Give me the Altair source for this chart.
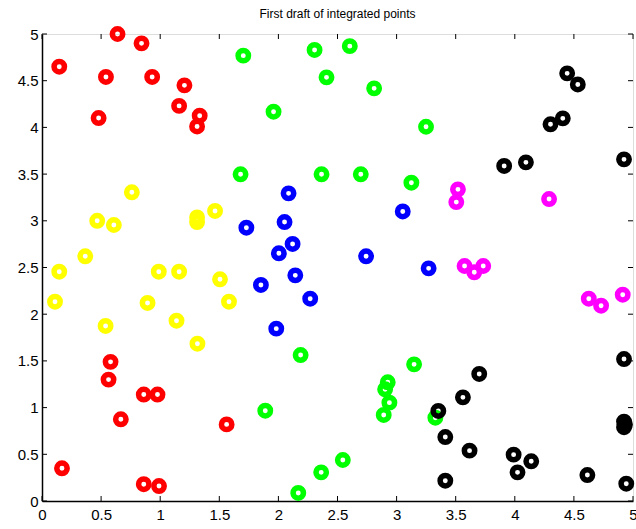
import altair as alt
import pandas as pd

red_x = [0.146, 0.639, 0.842, 0.541, 0.932, 0.479, 1.205, 1.160, 1.334, 1.312,
         0.580, 0.563, 0.667, 0.861, 0.977, 1.562, 0.169, 0.861, 0.990]
red_y = [4.65, 5.00, 4.90, 4.54, 4.54, 4.10, 4.45, 4.23, 4.125, 4.01,
         1.49, 1.30, 0.875, 1.14, 1.14, 0.82, 0.35, 0.18, 0.16]

yellow_x = [0.760, 0.467, 0.608, 0.366, 0.146, 0.110, 0.538, 0.988, 1.160, 0.893,
            1.138, 1.312, 1.312, 1.464, 1.506, 1.582, 1.315]
yellow_y = [3.305, 3.00, 2.955, 2.62, 2.455, 2.134, 1.874, 2.455, 2.455, 2.12,
            1.93, 3.037, 2.987, 3.105, 2.374, 2.134, 1.684]

green_x = [1.703, 2.306, 2.604, 2.407, 2.810, 1.959, 3.249, 1.680, 2.365, 2.697,
           3.125, 2.188, 1.889, 3.148, 2.925, 2.903, 2.939, 2.891, 2.545, 2.362,
           2.168, 3.328]
green_y = [4.768, 4.829, 4.87, 4.536, 4.418, 4.168, 4.007, 3.498, 3.498, 3.498,
           3.408, 1.563, 0.967, 1.463, 1.271, 1.196, 1.053, 0.921, 0.439, 0.307,
           0.086, 0.892]

blue_x = [2.086, 3.052, 1.729, 2.052, 2.120, 2.004, 2.742, 3.271, 2.143, 1.852,
          2.269, 1.982]
blue_y = [3.294, 3.10, 2.926, 2.987, 2.752, 2.652, 2.62, 2.491, 2.416, 2.313,
          2.166, 1.845]

magenta_x = [3.519, 3.505, 4.290, 3.575, 3.657, 3.733, 4.626, 4.730, 4.913]
magenta_y = [3.337, 3.20, 3.233, 2.516, 2.449, 2.516, 2.166, 2.091, 2.209]

black_x = [4.443, 4.533, 4.302, 4.406, 3.910, 4.094, 4.924, 4.924, 3.699, 3.561,
           3.353, 3.412, 3.617, 3.990, 4.139, 4.023, 3.412, 4.614, 4.943, 4.924,
           4.932, 4.924]
black_y = [4.579, 4.46, 4.033, 4.097, 3.587, 3.626, 3.658, 1.52, 1.36, 1.11,
           0.964, 0.685, 0.539, 0.496, 0.425, 0.307, 0.217, 0.278, 0.185, 0.85,
           0.82, 0.79]

groups = ["red", "yellow", "green", "blue", "magenta", "black"]
colors = ["#FF0000", "#FFFF00", "#00FF00", "#0000FF", "#FF00FF", "#000000"]
series = [(red_x, red_y), (yellow_x, yellow_y), (green_x, green_y),
          (blue_x, blue_y), (magenta_x, magenta_y), (black_x, black_y)]

rows = []
for g, (xs, ys) in zip(groups, series):
    for xv, yv in zip(xs, ys):
        rows.append({"x": xv, "y": yv, "group": g})
df = pd.DataFrame(rows)

tick_values = [0, 0.5, 1, 1.5, 2, 2.5, 3, 3.5, 4, 4.5, 5]
ticks = pd.DataFrame({"t": tick_values})

W, H = 591, 467
TL = 5

xscale = alt.Scale(domain=[0, 5], nice=False, zero=False)
yscale = alt.Scale(domain=[0, 5], nice=False, zero=False)

xaxis = alt.Axis(values=tick_values, title=None, grid=False, tickSize=0,
                 labelFontSize=15, labelFont="Liberation Sans", labelColor="black",
                 labelPadding=6, labelFlush=False, labelOverlap=False, format="~g",
                 domainColor="black", domainWidth=1.5)
yaxis = alt.Axis(values=tick_values, title=None, grid=False, tickSize=0,
                 labelFontSize=15, labelFont="Liberation Sans", labelColor="black",
                 labelPadding=4, labelFlush=False, labelOverlap=False, format="~g",
                 domainColor="black", domainWidth=1.5)

points = alt.Chart(df).mark_point(
    shape="circle", filled=False, size=108, strokeWidth=5.5, opacity=1
).encode(
    x=alt.X("x:Q", scale=xscale, axis=xaxis),
    y=alt.Y("y:Q", scale=yscale, axis=yaxis),
    color=alt.Color("group:N", scale=alt.Scale(domain=groups, range=colors), legend=None),
)

tb = alt.Chart(ticks).mark_rule(color="black", strokeWidth=1).encode(
    x=alt.X("t:Q", scale=xscale), y=alt.value(H), y2=alt.value(H - TL))
tt = alt.Chart(ticks).mark_rule(color="black", strokeWidth=1).encode(
    x=alt.X("t:Q", scale=xscale), y=alt.value(0), y2=alt.value(TL))
tl = alt.Chart(ticks).mark_rule(color="black", strokeWidth=1).encode(
    y=alt.Y("t:Q", scale=yscale), x=alt.value(0), x2=alt.value(TL))
tr = alt.Chart(ticks).mark_rule(color="black", strokeWidth=1).encode(
    y=alt.Y("t:Q", scale=yscale), x=alt.value(W), x2=alt.value(W - TL))

chart = alt.layer(tb, tt, tl, tr, points).properties(
    width=W, height=H,
    title=alt.TitleParams("First draft of integrated points", fontSize=12,
                          font="Liberation Sans", fontWeight="normal",
                          color="black", offset=-3, anchor="middle", frame="group"),
    autosize=alt.AutoSizeParams(type="none"),
    padding={"left": 42, "top": 34, "right": 3, "bottom": 28},
).configure_view(stroke="black", strokeWidth=1).configure(background="white")

chart.save("out.html", embed_options={"renderer": "svg", "actions": False})
